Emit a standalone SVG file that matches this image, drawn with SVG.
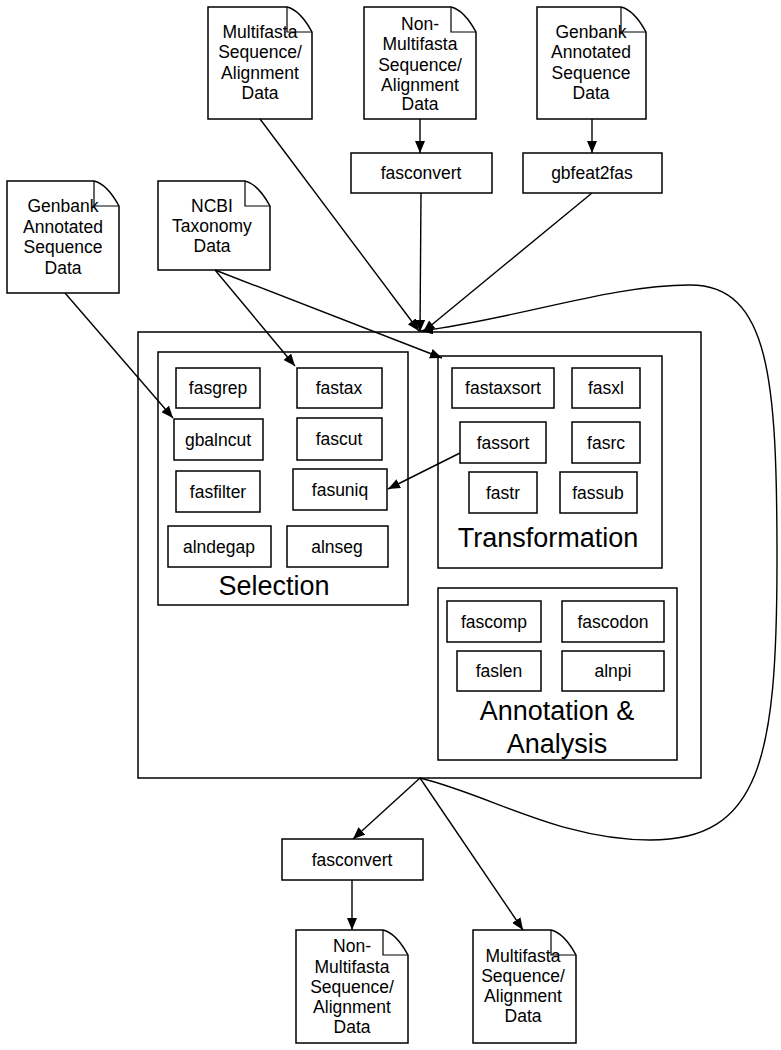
<svg xmlns="http://www.w3.org/2000/svg" width="781" height="1050" viewBox="0 0 781 1050">
<defs>
<style>
text{font-family:"Liberation Sans",Arial,sans-serif;font-size:17.5px;text-anchor:middle;fill:#000}
.big{font-size:27px}
.box{fill:#fff;stroke:#000;stroke-width:1.5}
.cl{fill:none;stroke:#000;stroke-width:1.5}
.doc{fill:#fff;stroke:#000;stroke-width:1.5}
.flap{fill:none;stroke:#000;stroke-width:1.2}
.e{fill:none;stroke:#000;stroke-width:1.4;marker-end:url(#ah)}
</style>
<marker id="ah" markerUnits="userSpaceOnUse" markerWidth="13" markerHeight="10" refX="12" refY="5" orient="auto">
<path d="M0,0 L12,5 L0,10 Z" fill="#000"/>
</marker>
</defs>
<rect width="781" height="1050" fill="#fff"/>

<g id="outer"><rect class="cl" x="138" y="332" width="563" height="446"/></g>
<g id="cluster-selection"><rect class="cl" x="158" y="352" width="250" height="253"/><text class="big" x="274" y="595">Selection</text></g>
<g id="cluster-transformation"><rect class="cl" x="438" y="356" width="224" height="212"/><text class="big" x="548" y="547">Transformation</text></g>
<g id="cluster-annotation"><rect class="cl" x="438" y="588" width="239" height="172"/><text class="big" x="557" y="720">Annotation &amp;</text><text class="big" x="557" y="753">Analysis</text></g>

<g id="doc-multifasta-top"><path class="doc" d="M208,7 H287 Q300,10 312,32 V119 H208 Z"/><path class="flap" d="M287,7 V32 H312"/>
<text x="260" y="37.5">Multifasta</text><text x="260" y="58">Sequence/</text><text x="260" y="78.5">Alignment</text><text x="260" y="99">Data</text></g>
<g id="doc-nonmultifasta-top"><path class="doc" d="M364,7 H451 Q464,10 476,32 V119 H364 Z"/><path class="flap" d="M451,7 V32 H476"/>
<text x="420" y="30">Non-</text><text x="420" y="50">Multifasta</text><text x="420" y="70.5">Sequence/</text><text x="420" y="90.5">Alignment</text><text x="420" y="110">Data</text></g>
<g id="doc-genbank-top"><path class="doc" d="M537,7 H621 Q634,10 646,32 V119 H537 Z"/><path class="flap" d="M621,7 V32 H646"/>
<text x="591" y="37.5">Genbank</text><text x="591" y="58">Annotated</text><text x="591" y="78.5">Sequence</text><text x="591" y="99">Data</text></g>
<g id="doc-genbank-left"><path class="doc" d="M7,181 H94 Q107,184 119,206 V293 H7 Z"/><path class="flap" d="M94,181 V206 H119"/>
<text x="63" y="212">Genbank</text><text x="63" y="233">Annotated</text><text x="63" y="253">Sequence</text><text x="63" y="274">Data</text></g>
<g id="doc-ncbi"><path class="doc" d="M158,181 H245 Q258,184 270,206 V270 H158 Z"/><path class="flap" d="M245,181 V206 H270"/>
<text x="212" y="212">NCBI</text><text x="212" y="232">Taxonomy</text><text x="212" y="252">Data</text></g>
<g id="doc-nonmultifasta-bottom"><path class="doc" d="M296,930 H383 Q396,933 408,955 V1043 H296 Z"/><path class="flap" d="M383,930 V955 H408"/>
<text x="352" y="952">Non-</text><text x="352" y="972.5">Multifasta</text><text x="352" y="993">Sequence/</text><text x="352" y="1013">Alignment</text><text x="352" y="1033">Data</text></g>
<g id="doc-multifasta-bottom"><path class="doc" d="M473,930 H551 Q564,933 576,955 V1043 H473 Z"/><path class="flap" d="M551,930 V955 H576"/>
<text x="523" y="962">Multifasta</text><text x="523" y="982">Sequence/</text><text x="523" y="1002">Alignment</text><text x="523" y="1022">Data</text></g>

<g id="fasconvert-top"><rect class="box" x="351" y="153" width="141" height="40"/><text x="421" y="179">fasconvert</text></g>
<g id="gbfeat2fas"><rect class="box" x="523" y="153" width="139" height="40"/><text x="592" y="179">gbfeat2fas</text></g>
<g id="fasconvert-bottom"><rect class="box" x="282" y="839" width="141" height="41"/><text x="352" y="866">fasconvert</text></g>

<g id="fasgrep"><rect class="box" x="176" y="368" width="84" height="40"/><text x="218" y="394">fasgrep</text></g>
<g id="fastax"><rect class="box" x="297" y="368" width="85" height="40"/><text x="339" y="394">fastax</text></g>
<g id="gbalncut"><rect class="box" x="174" y="419" width="89" height="41"/><text x="218" y="446">gbalncut</text></g>
<g id="fascut"><rect class="box" x="297" y="418" width="85" height="42"/><text x="339" y="445">fascut</text></g>
<g id="fasfilter"><rect class="box" x="176" y="471" width="84" height="41"/><text x="218" y="498">fasfilter</text></g>
<g id="fasuniq"><rect class="box" x="293" y="469" width="94" height="41"/><text x="340" y="496">fasuniq</text></g>
<g id="alndegap"><rect class="box" x="168" y="526" width="103" height="41"/><text x="219" y="553">alndegap</text></g>
<g id="alnseg"><rect class="box" x="287" y="526" width="101" height="41"/><text x="337" y="553">alnseg</text></g>

<g id="fastaxsort"><rect class="box" x="452" y="368" width="102" height="40"/><text x="503" y="394">fastaxsort</text></g>
<g id="fasxl"><rect class="box" x="572" y="368" width="68" height="40"/><text x="606" y="394">fasxl</text></g>
<g id="fassort"><rect class="box" x="460" y="422" width="86" height="41"/><text x="503" y="449">fassort</text></g>
<g id="fasrc"><rect class="box" x="572" y="422" width="68" height="41"/><text x="606" y="449">fasrc</text></g>
<g id="fastr"><rect class="box" x="469" y="472" width="68" height="41"/><text x="503" y="499">fastr</text></g>
<g id="fassub"><rect class="box" x="560" y="472" width="77" height="41"/><text x="598" y="499">fassub</text></g>

<g id="fascomp"><rect class="box" x="447" y="601" width="94" height="41"/><text x="494" y="628">fascomp</text></g>
<g id="fascodon"><rect class="box" x="562" y="601" width="102" height="41"/><text x="613" y="628">fascodon</text></g>
<g id="faslen"><rect class="box" x="457" y="651" width="84" height="40"/><text x="499" y="677">faslen</text></g>
<g id="alnpi"><rect class="box" x="562" y="651" width="102" height="40"/><text x="613" y="677">alnpi</text></g>

<g id="connectors">
<path class="e" d="M420,119 V153"/>
<path class="e" d="M592,119 V153"/>
<path class="e" d="M260,119 L419,331"/>
<path class="e" d="M421,193 L420,332"/>
<path class="e" d="M592,193 L423,332"/>
<path class="e" d="M690,285 C610,285 520,318 421,331"/>
<path class="e" d="M215,270 L295,366"/>
<path class="e" d="M215,270 L442,358"/>
<path class="e" d="M65,293 L173,418"/>
<path class="e" d="M460,453 L388,489"/>
<path class="e" d="M420,778 L353,839"/>
<path class="e" d="M352,880 V930"/>
<path class="e" d="M420,778 L523,930"/>
<path fill="none" stroke="#000" stroke-width="1.4" d="M420,778 C490,795 560,840 650,840 C760,840 777,760 777,560 C777,380 770,285 690,285"/>
</g>
</svg>
